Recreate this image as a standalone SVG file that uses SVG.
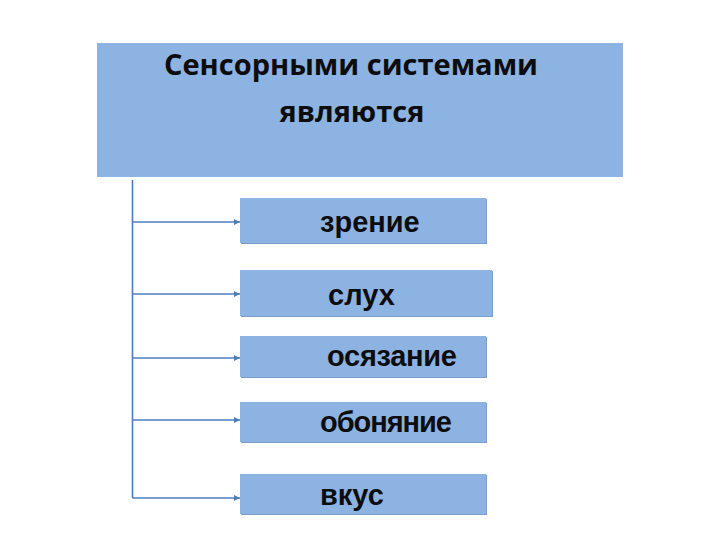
<svg xmlns="http://www.w3.org/2000/svg" width="720" height="540" viewBox="0 0 720 540">
<defs>
<marker id="ah" viewBox="0 0 10 10" refX="10" refY="5" markerWidth="4" markerHeight="4" orient="auto" markerUnits="strokeWidth">
<path d="M0,0 L10,5 L0,10 z" fill="#4a7ebb"/>
</marker>
</defs>
<style>
.box{fill:#8db3e2}
.shadow{fill:#7b9dcb}
.title{font-family:"Open Sans","Liberation Sans",sans-serif;font-weight:bold;font-size:29px;fill:#0d0d0d;text-anchor:middle}
.lbl{font-family:"Liberation Sans",Arial,sans-serif;font-weight:bold;font-size:29px;fill:#0d0d0d}
.conn{stroke:#4a7ebb;stroke-width:1.6;fill:none}
</style>
<rect width="720" height="540" fill="#ffffff"/>
<g id="header">
<rect class="box" x="97" y="43" width="526" height="134"/>
<text class="title" x="351" y="75">Сенсорными системами</text>
<text class="title" x="352" y="122">являются</text>
</g>
<g id="connectors">
<line class="conn" x1="132.5" y1="180" x2="132.5" y2="498"/>
<line class="conn" x1="132.5" y1="222" x2="240" y2="222" marker-end="url(#ah)"/>
<line class="conn" x1="132.5" y1="294" x2="240" y2="294" marker-end="url(#ah)"/>
<line class="conn" x1="132.5" y1="358" x2="240" y2="358" marker-end="url(#ah)"/>
<line class="conn" x1="132.5" y1="420" x2="240" y2="420" marker-end="url(#ah)"/>
<line class="conn" x1="132.5" y1="498" x2="240" y2="498" marker-end="url(#ah)"/>
</g>
<g id="n1">
<rect class="shadow" x="241" y="199" width="246" height="45"/>
<rect class="box" x="240" y="198" width="246" height="45"/>
<text class="lbl" x="320" y="232">зрение</text>
</g>
<g id="n2">
<rect class="shadow" x="241" y="271" width="252" height="46"/>
<rect class="box" x="240" y="270" width="252" height="46"/>
<text class="lbl" x="328" y="305">слух</text>
</g>
<g id="n3">
<rect class="shadow" x="241" y="337" width="246" height="41"/>
<rect class="box" x="240" y="336" width="246" height="41"/>
<text class="lbl" x="327" y="366" textLength="130">осязание</text>
</g>
<g id="n4">
<rect class="shadow" x="241" y="403" width="246" height="40"/>
<rect class="box" x="240" y="402" width="246" height="40"/>
<text class="lbl" x="320" y="432" textLength="132">обоняние</text>
</g>
<g id="n5">
<rect class="shadow" x="241" y="475" width="246" height="40"/>
<rect class="box" x="240" y="474" width="246" height="40"/>
<text class="lbl" x="320" y="505">вкус</text>
</g>
</svg>
